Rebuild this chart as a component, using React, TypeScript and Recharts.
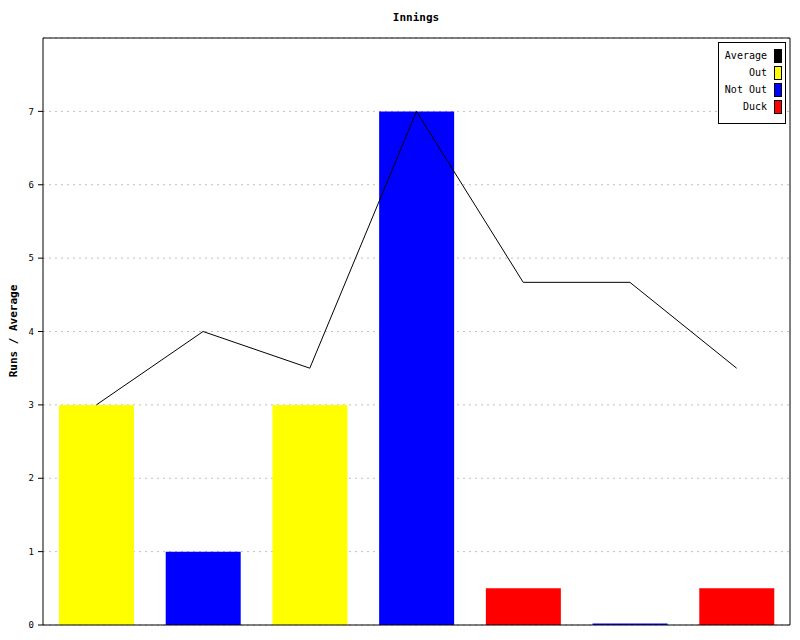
import React from 'react';
import { ComposedChart, Bar, Line, XAxis, YAxis, CartesianGrid, Cell } from 'recharts';

const categories = ['1', '2', '3', '4', '5', '6', '7'];
const runs = [3, 1, 3, 7, 0.5, 0.02, 0.5];
const status = ['Out', 'Not Out', 'Out', 'Not Out', 'Duck', 'Not Out', 'Duck'];
const average = [3, 4, 3.5, 7, 4.67, 4.67, 3.5];
const yTicks = [0, 1, 2, 3, 4, 5, 6, 7];

const statusColors: Record<string, string> = {
  Average: '#000000',
  Out: '#ffff00',
  'Not Out': '#0000ff',
  Duck: '#ff0000',
};
const legendItems = ['Average', 'Out', 'Not Out', 'Duck'];

const data = categories.map((c, i) => ({
  name: c,
  runs: runs[i],
  status: status[i],
  average: average[i],
}));

const FONT = "'DejaVu Sans Mono', monospace";

const YLabel = () => (
  <text
    x={13}
    y={331}
    transform="rotate(-90, 13, 331)"
    textAnchor="middle"
    dominantBaseline="central"
    fontFamily={FONT}
    fontSize={11}
    fontWeight="bold"
    fill="#000"
  >
    Runs / Average
  </text>
);

const Title = () => (
  <text
    x={416}
    y={17}
    textAnchor="middle"
    dominantBaseline="central"
    fontFamily={FONT}
    fontSize={11}
    fontWeight="bold"
    fill="#000"
  >
    Innings
  </text>
);

export default function App() {
  return (
    <div style={{ position: 'absolute', left: 0, top: 0, width: 800, height: 640, background: '#fff' }}>
      <ComposedChart
        width={800}
        height={640}
        data={data}
        margin={{ top: 37, right: 9, bottom: 14, left: 0 }}
        barCategoryGap="30%"
      >
        <CartesianGrid vertical={false} stroke="#c0c0c0" strokeDasharray="2 4" />
        <XAxis
          dataKey="name"
          tick={false}
          tickLine={false}
          height={1}
          axisLine={{ stroke: '#000', strokeWidth: 1 }}
        />
        <XAxis
          xAxisId="top"
          orientation="top"
          dataKey="name"
          tick={false}
          tickLine={false}
          height={1}
          axisLine={{ stroke: '#000', strokeWidth: 1 }}
          label={<Title />}
        />
        <YAxis
          width={43}
          domain={[0, 8]}
          ticks={yTicks}
          interval={0}
          tickSize={5}
          tickMargin={4}
          tick={{ fontFamily: FONT, fontSize: 9, fill: '#000' }}
          tickLine={{ stroke: '#000', strokeWidth: 1 }}
          axisLine={{ stroke: '#000', strokeWidth: 1 }}
          label={<YLabel />}
        />
        <YAxis
          yAxisId="right"
          orientation="right"
          width={1}
          domain={[0, 8]}
          ticks={yTicks}
          tick={false}
          tickLine={false}
          axisLine={{ stroke: '#000', strokeWidth: 1 }}
        />
        <Bar dataKey="runs" xAxisId="top" barSize={75} isAnimationActive={false}>
          {data.map((d, i) => (
            <Cell key={i} fill={statusColors[d.status]} />
          ))}
        </Bar>
        <Line
          type="linear"
          dataKey="average"
          yAxisId="right"
          stroke="#000"
          strokeWidth={1}
          dot={false}
          activeDot={false}
          isAnimationActive={false}
        />
      </ComposedChart>
      <div
        style={{
          position: 'absolute',
          left: 718,
          top: 42,
          width: 66,
          height: 80,
          border: '1px solid #000',
          background: '#fff',
          fontFamily: FONT,
          fontSize: 10,
          boxSizing: 'content-box',
        }}
      >
        {legendItems.map((item, i) => (
          <div
            key={item}
            style={{
              position: 'absolute',
              top: 6 + i * 17,
              left: 0,
              width: 63,
              height: 14,
              display: 'flex',
              alignItems: 'center',
              justifyContent: 'flex-end',
            }}
          >
            <span style={{ marginRight: 7, lineHeight: '14px' }}>{item}</span>
            <span
              style={{
                display: 'inline-block',
                width: 6,
                height: 12,
                background: statusColors[item],
                border: '1px solid #000',
              }}
            />
          </div>
        ))}
      </div>
    </div>
  );
}
